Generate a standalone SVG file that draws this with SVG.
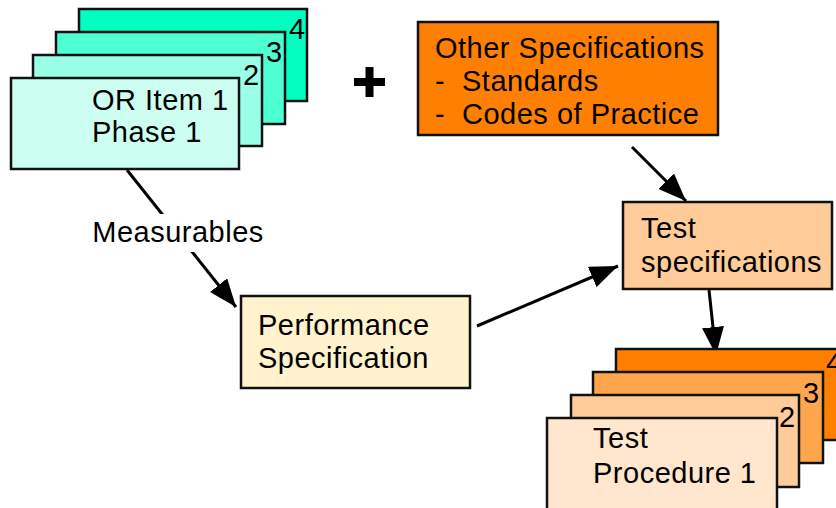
<svg xmlns="http://www.w3.org/2000/svg" width="836" height="508" viewBox="0 0 836 508">
<defs>
<style>
text{font-family:"Liberation Sans",Arial,sans-serif;font-size:29px;letter-spacing:0.5px;fill:#000}
.b{stroke:#111;stroke-width:2.5}
.c{stroke:#000;stroke-width:3;fill:none}
</style>
<marker id="ah" markerUnits="userSpaceOnUse" markerWidth="30" markerHeight="22" refX="28" refY="11" orient="auto">
<path d="M0,0 L28,11 L0,22 z" fill="#000"/>
</marker>
</defs>
<rect width="836" height="508" fill="#fff"/>
<g id="connectors">
<line class="c" x1="127" y1="170" x2="236" y2="307" marker-end="url(#ah)"/>
<line class="c" x1="477" y1="326" x2="618" y2="266" marker-end="url(#ah)"/>
<line class="c" x1="632" y1="147" x2="686" y2="201" marker-end="url(#ah)"/>
<line class="c" x1="709" y1="290" x2="716" y2="355" marker-end="url(#ah)"/>
<rect x="88" y="214" width="180" height="38" fill="#fff"/>
<text x="178" y="242" text-anchor="middle">Measurables</text>
</g>
<g id="or-stack">
<rect class="b" x="79" y="9" width="228" height="92" fill="#00FFC0"/>
<text x="289" y="39">4</text>
<rect class="b" x="56" y="32" width="229" height="92" fill="#4DFFD3"/>
<text x="266" y="62">3</text>
<rect class="b" x="33" y="55" width="229" height="91" fill="#99FFE6"/>
<text x="243" y="85">2</text>
<rect class="b" x="11" y="78" width="228" height="91" fill="#CCFFF2"/>
<text x="92" y="110">OR Item 1</text>
<text x="92" y="142">Phase 1</text>
</g>
<g id="plus">
<path d="M354,82 H385 M369.5,67 V97" stroke="#000" stroke-width="8" fill="none"/>
</g>
<g id="other-specs">
<rect class="b" x="418" y="22" width="300" height="113" fill="#FF8000"/>
<text x="435" y="58">Other Specifications</text>
<text x="435" y="91">-<tspan x="462">Standards</tspan></text>
<text x="435" y="124">-<tspan x="462">Codes of Practice</tspan></text>
</g>
<g id="performance-spec">
<rect class="b" x="241" y="296" width="229" height="92" fill="#FFF2CC"/>
<text x="258" y="335">Performance</text>
<text x="258" y="368">Specification</text>
</g>
<g id="test-specs">
<rect class="b" x="623" y="202" width="209" height="87" fill="#FFCC99"/>
<text x="641" y="238">Test</text>
<text x="641" y="272">specifications</text>
</g>
<g id="test-procedure-stack">
<rect class="b" x="616" y="349" width="230" height="91" fill="#FF8000"/>
<text x="826" y="373">4</text>
<rect class="b" x="593" y="372" width="230" height="91" fill="#FFA64D"/>
<text x="803" y="403">3</text>
<rect class="b" x="571" y="395" width="228" height="92" fill="#FFCC99"/>
<text x="779" y="427">2</text>
<rect class="b" x="547" y="418" width="230" height="100" fill="#FFE6CC"/>
<text x="593" y="448">Test</text>
<text x="593" y="483">Procedure 1</text>
</g>
</svg>
